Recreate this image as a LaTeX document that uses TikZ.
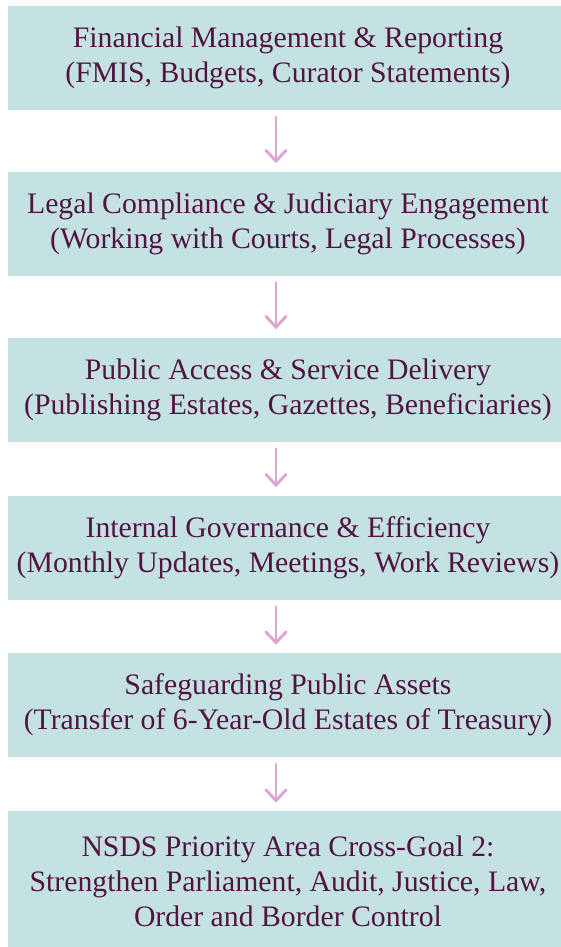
\documentclass[tikz,border=0pt]{standalone}
\usepackage{fontspec}
\setmainfont{Liberation Serif}
\newfontfamily\boxfont{Liberation Serif}
\usepackage{xcolor}
\usetikzlibrary{arrows.meta}

\definecolor{boxfill}{HTML}{C5E2E3}
\definecolor{boxtext}{HTML}{521443}
\definecolor{arrowpink}{HTML}{DCA6D0}

\begin{document}
\begin{tikzpicture}[x=0.75pt,y=-0.75pt,
  box/.style={fill=boxfill,text=boxtext,align=center,inner sep=0pt,
    minimum width=420pt,minimum height=78pt,
    font=\boxfont\fontsize{22.3}{26.25}\selectfont},
  flow/.style={draw=arrowpink,line width=2.2pt,line cap=round,
    -{Straight Barb[length=8pt,width=15pt,line cap=round]}}]
\fill[white] (0,0) rectangle (561,947);
\useasboundingbox (0,0) rectangle (561,947);

%第一层
\node[box] (fin) at (288,58) {Financial Management \& Reporting\\(FMIS, Budgets, Curator Statements)};
%第二层
\node[box] (legal) at (288,223.5) {Legal Compliance \& Judiciary Engagement\\(Working with Courts, Legal Processes)};
%第三层
\node[box] (public) at (288,389.5) {Public Access \& Service Delivery\\(Publishing Estates, Gazettes, Beneficiaries)};
%第四层
\node[box] (internal) at (288,547.5) {Internal Governance \& Efficiency\\(Monthly Updates, Meetings, Work Reviews)};
%第五层
\node[box] (assets) at (288,705) {Safeguarding Public Assets\\(Transfer of 6-Year-Old Estates of Treasury)};
%底层目标
\node[box,minimum height=105pt] (nsds) at (288,881) {NSDS Priority Area Cross-Goal 2:\\Strengthen Parliament, Audit, Justice, Law,\\Order and Border Control};

%箭头
\draw[flow] ([shift={(-9pt,-5.25pt)}]fin.south)--([shift={(-9pt,6pt)}]legal.north);
\draw[flow] ([shift={(-9pt,-5.25pt)}]legal.south)--([shift={(-9pt,6pt)}]public.north);
\draw[flow] ([shift={(-9pt,-5.25pt)}]public.south)--([shift={(-9pt,6pt)}]internal.north);
\draw[flow] ([shift={(-9pt,-5.25pt)}]internal.south)--([shift={(-9pt,6pt)}]assets.north);
\draw[flow] ([shift={(-9pt,-5.25pt)}]assets.south)--([shift={(-9pt,6pt)}]nsds.north);
\end{tikzpicture}
\end{document}
